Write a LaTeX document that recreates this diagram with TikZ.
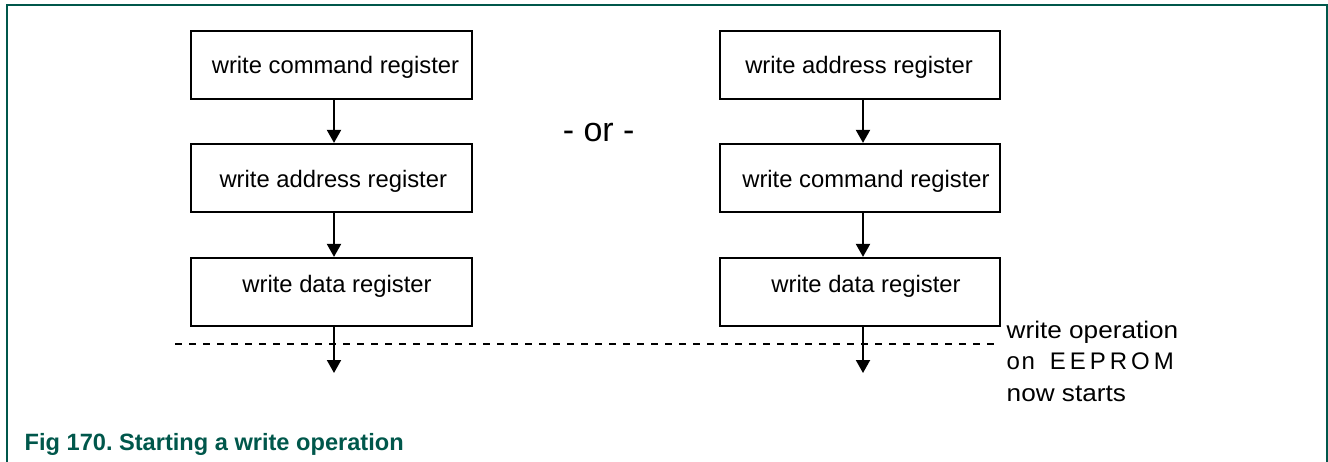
\documentclass[tikz,border=0pt]{standalone}
\usepackage{fontspec}
\setmainfont{Liberation Sans}
\usetikzlibrary{arrows.meta}
\definecolor{nxpgreen}{HTML}{00574B}
\frenchspacing
\begin{document}
\begin{tikzpicture}[x=1pt,y=-1pt,
  box/.style={draw,line width=2.2pt,minimum width=281pt,minimum height=68pt,inner sep=0pt},
  txt/.style={anchor=base,inner sep=0pt,font=\fontsize{23.8}{28}\selectfont},
  arr/.style={line width=2pt,-{Triangle[length=13pt,width=14pt]}},
  note/.style={anchor=base west,inner sep=0pt,font=\fontsize{24}{28}\selectfont},
  frame/.style={draw=nxpgreen,line width=2pt}]
\useasboundingbox (0,0) rectangle (1328,461);
\draw[frame] (7,470) -- (7,4.7) -- (1326.5,4.7) -- (1326.5,470);
% left column
\node[box] (L1) at (331.5,65) {};
\node[box] (L2) at (331.5,178) {};
\node[box] (L3) at (331.5,292) {};
\node[txt] (tL1) at (335.5,73) {write command register};
\node[txt] (tL2) at (333.3,187) {write address register};
\node[txt] (tL3) at (337,292) {write data register};
% right column
\node[box,minimum width=280pt] (R1) at (860,65) {};
\node[box,minimum width=280pt] (R2) at (860,178) {};
\node[box,minimum width=280pt] (R3) at (860,292) {};
\node[txt] (tR1) at (859,73) {write address register};
\node[txt] (tR2) at (866,187) {write command register};
\node[txt] (tR3) at (866,292) {write data register};
% or
\node[anchor=base,inner sep=0pt,font=\fontsize{34}{40}\selectfont] (or) at (598.7,141.7) {- or -};
% arrows
\draw[arr] ([xshift=2.5pt]L1.south) -- ([xshift=2.5pt]L2.north);
\draw[arr] ([xshift=2.5pt]L2.south) -- ([xshift=2.5pt]L3.north);
\draw[arr] ([xshift=3pt]R1.south) -- ([xshift=3pt]R2.north);
\draw[arr] ([xshift=3pt]R2.south) -- ([xshift=3pt]R3.north);
\coordinate (Lend) at (334,373);
\coordinate (Rend) at (863,373);
\draw[arr] ([xshift=2.5pt]L3.south) -- (Lend);
\draw[arr] ([xshift=3pt]R3.south) -- (Rend);
% dashed line
\coordinate (dl) at (175,344);
\coordinate (dr) at (1000,344);
\draw[line width=2pt,dash pattern=on 7pt off 7pt] (dl) -- (dr);
% side note
\node[note] (n1) at (1006.5,338.3) {\scalebox{1.09}[1]{write operation}};
\node[note] (n2) at (1006.5,369.3) {o\kern1.5pt n\hspace{15pt}E\kern4pt E\kern4pt P\kern4pt R\kern4pt O\kern4pt M};
\node[note] (n3) at (1006.5,401) {\scalebox{1.09}[1]{now starts}};
% caption
\node[anchor=base west,inner sep=0pt,text=nxpgreen,font=\fontsize{23.6}{28}\selectfont\bfseries] (cap) at (24.5,450.7) {Fig 170. Starting a write operation};
\end{tikzpicture}
\end{document}
